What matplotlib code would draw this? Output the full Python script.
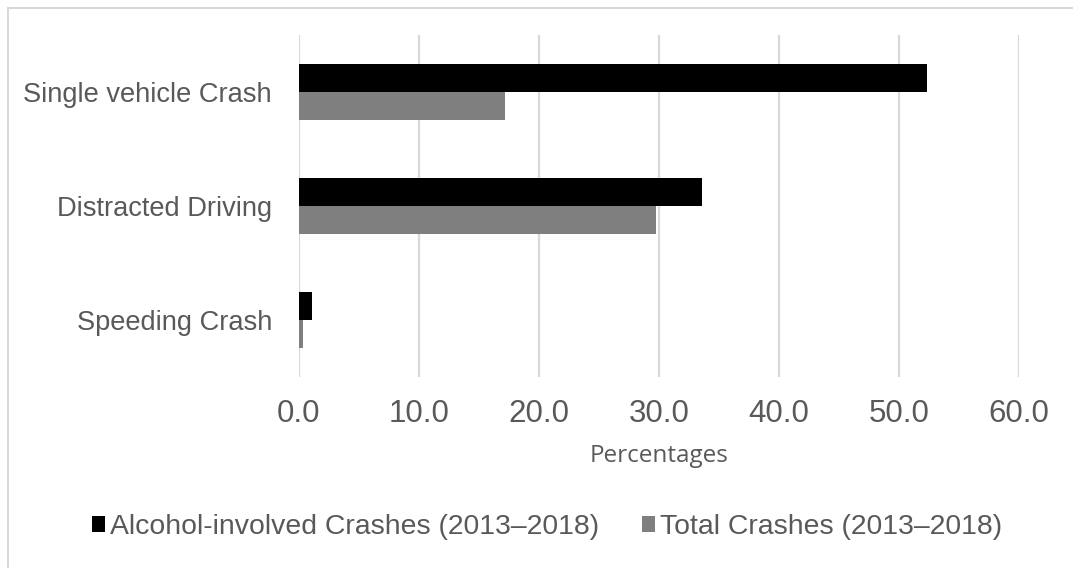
import matplotlib.pyplot as plt
import numpy as np
from matplotlib.lines import Line2D

# crash categories, top to bottom
categories = ["Single vehicle Crash", "Distracted Driving", "Speeding Crash"]
alcohol_pct = [52.3, 33.6, 1.1]
total_pct = [17.2, 29.8, 0.35]
series_names = ["Alcohol-involved Crashes (2013\u20132018)", "Total Crashes (2013\u20132018)"]
x_ticks = [0, 10, 20, 30, 40, 50, 60]

TEXT = "#595959"
GRID = "#d9d9d9"

plt.rcParams["font.family"] = ["Liberation Sans", "DejaVu Sans"]

fig = plt.figure(figsize=(10.73, 5.68), dpi=100)
ax = fig.add_axes([0.2782, 0.3363, 0.9497 - 0.2782, 0.9384 - 0.3363])

y = np.arange(len(categories))
h = 0.245
ax.barh(y - h / 2, alcohol_pct, height=h, color="black", label=series_names[0], zorder=3)
ax.barh(y + h / 2, total_pct, height=h, color="#7f7f7f", label=series_names[1], zorder=3)

ax.set_ylim(len(categories) - 0.5, -0.5)
ax.set_xlim(0, 60)
ax.set_yticks(y)
ax.set_yticklabels(categories, fontsize=19.6, color=TEXT)
ax.set_xticks(x_ticks)
ax.set_xticklabels([f"{t:.1f}" for t in x_ticks], fontsize=22.5, color=TEXT)
ax.tick_params(axis="y", length=0, pad=19)
ax.tick_params(axis="x", length=0, pad=16)

ax.grid(axis="x", color=GRID, linewidth=1.6, zorder=0)
ax.set_axisbelow(True)
for s in ax.spines.values():
    s.set_visible(False)

ax.set_xlabel("Percentages", fontsize=17.5, color=TEXT, family=["Open Sans", "DejaVu Sans"], labelpad=11)

leg = fig.legend(loc="center", bbox_to_anchor=(0.51, 1 - 527 / 568), ncol=2, frameon=False,
                 fontsize=20.4, handlelength=0.45, handleheight=0.45, handletextpad=0.2,
                 columnspacing=1.5)
for t in leg.get_texts():
    t.set_color(TEXT)

# chart area frame (top and left edges)
fx, fy = 8 / 1073, 1 - 8 / 568
fig.add_artist(Line2D([fx, 1], [fy, fy], color=GRID, linewidth=1.5, transform=fig.transFigure))
fig.add_artist(Line2D([fx, fx], [0, fy], color=GRID, linewidth=1.5, transform=fig.transFigure))

fig.savefig("out.png", dpi=100, facecolor="white")
